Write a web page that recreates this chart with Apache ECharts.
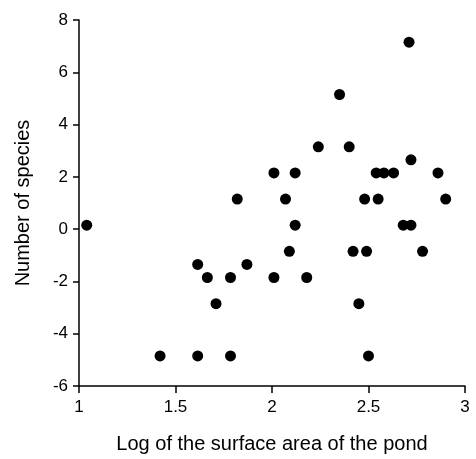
<!DOCTYPE html>
<html><head><meta charset="utf-8">
<script src="https://cdn.jsdelivr.net/npm/echarts@6/dist/echarts.min.js"></script>
<style>html,body{margin:0;padding:0;background:#fff}#c{width:476px;height:459px}</style>
</head><body><div id="c"></div>
<script>
var logArea = [1.04,1.42,1.615,1.615,1.665,1.71,1.785,1.785,1.82,1.87,2.01,2.01,2.07,2.09,2.12,2.12,2.18,2.24,2.35,2.40,2.42,2.45,2.48,2.49,2.50,2.54,2.55,2.58,2.63,2.68,2.71,2.72,2.72,2.78,2.86,2.90];
var species = [0.15,-4.85,-4.85,-1.35,-1.85,-2.85,-1.85,-4.85,1.15,-1.35,2.15,-1.85,1.15,-0.85,2.15,0.15,-1.85,3.15,5.15,3.15,-0.85,-2.85,1.15,-0.85,-4.85,2.15,1.15,2.15,2.15,0.15,7.15,2.65,0.15,-0.85,2.15,1.15];
var xTitle = 'Log of the surface area of the pond';
var yTitle = 'Number of species';
var pts = logArea.map(function(x,i){return [x, species[i]];});
var font = 'Liberation Sans, Arial, sans-serif';
var chart = echarts.init(document.getElementById('c'));
chart.setOption({
  animation:false,
  grid:{left:79,right:11,top:20,bottom:73,containLabel:false},
  xAxis:{type:'value',min:1,max:3,interval:0.5,
    name:xTitle,nameLocation:'middle',nameGap:48,
    nameTextStyle:{color:'#000',fontSize:20,fontFamily:font},
    axisLine:{show:true,onZero:false,lineStyle:{color:'#000',width:1.5}},
    axisTick:{show:true,length:7,lineStyle:{color:'#000',width:1.5}},
    axisLabel:{color:'#000',fontSize:17,fontFamily:font,margin:13},
    splitLine:{show:false}},
  yAxis:{type:'value',min:-6,max:8,interval:2,
    name:yTitle,nameLocation:'middle',nameGap:46,
    nameTextStyle:{color:'#000',fontSize:20,fontFamily:font},
    axisLine:{show:true,onZero:false,lineStyle:{color:'#000',width:1.5}},
    axisTick:{show:true,length:6,lineStyle:{color:'#000',width:1.5}},
    axisLabel:{color:'#000',fontSize:17,fontFamily:font,margin:11},
    splitLine:{show:false}},
  series:[{type:'scatter',data:pts,symbol:'circle',symbolSize:11,
    itemStyle:{color:'#000',opacity:1}}]
});
</script></body></html>
